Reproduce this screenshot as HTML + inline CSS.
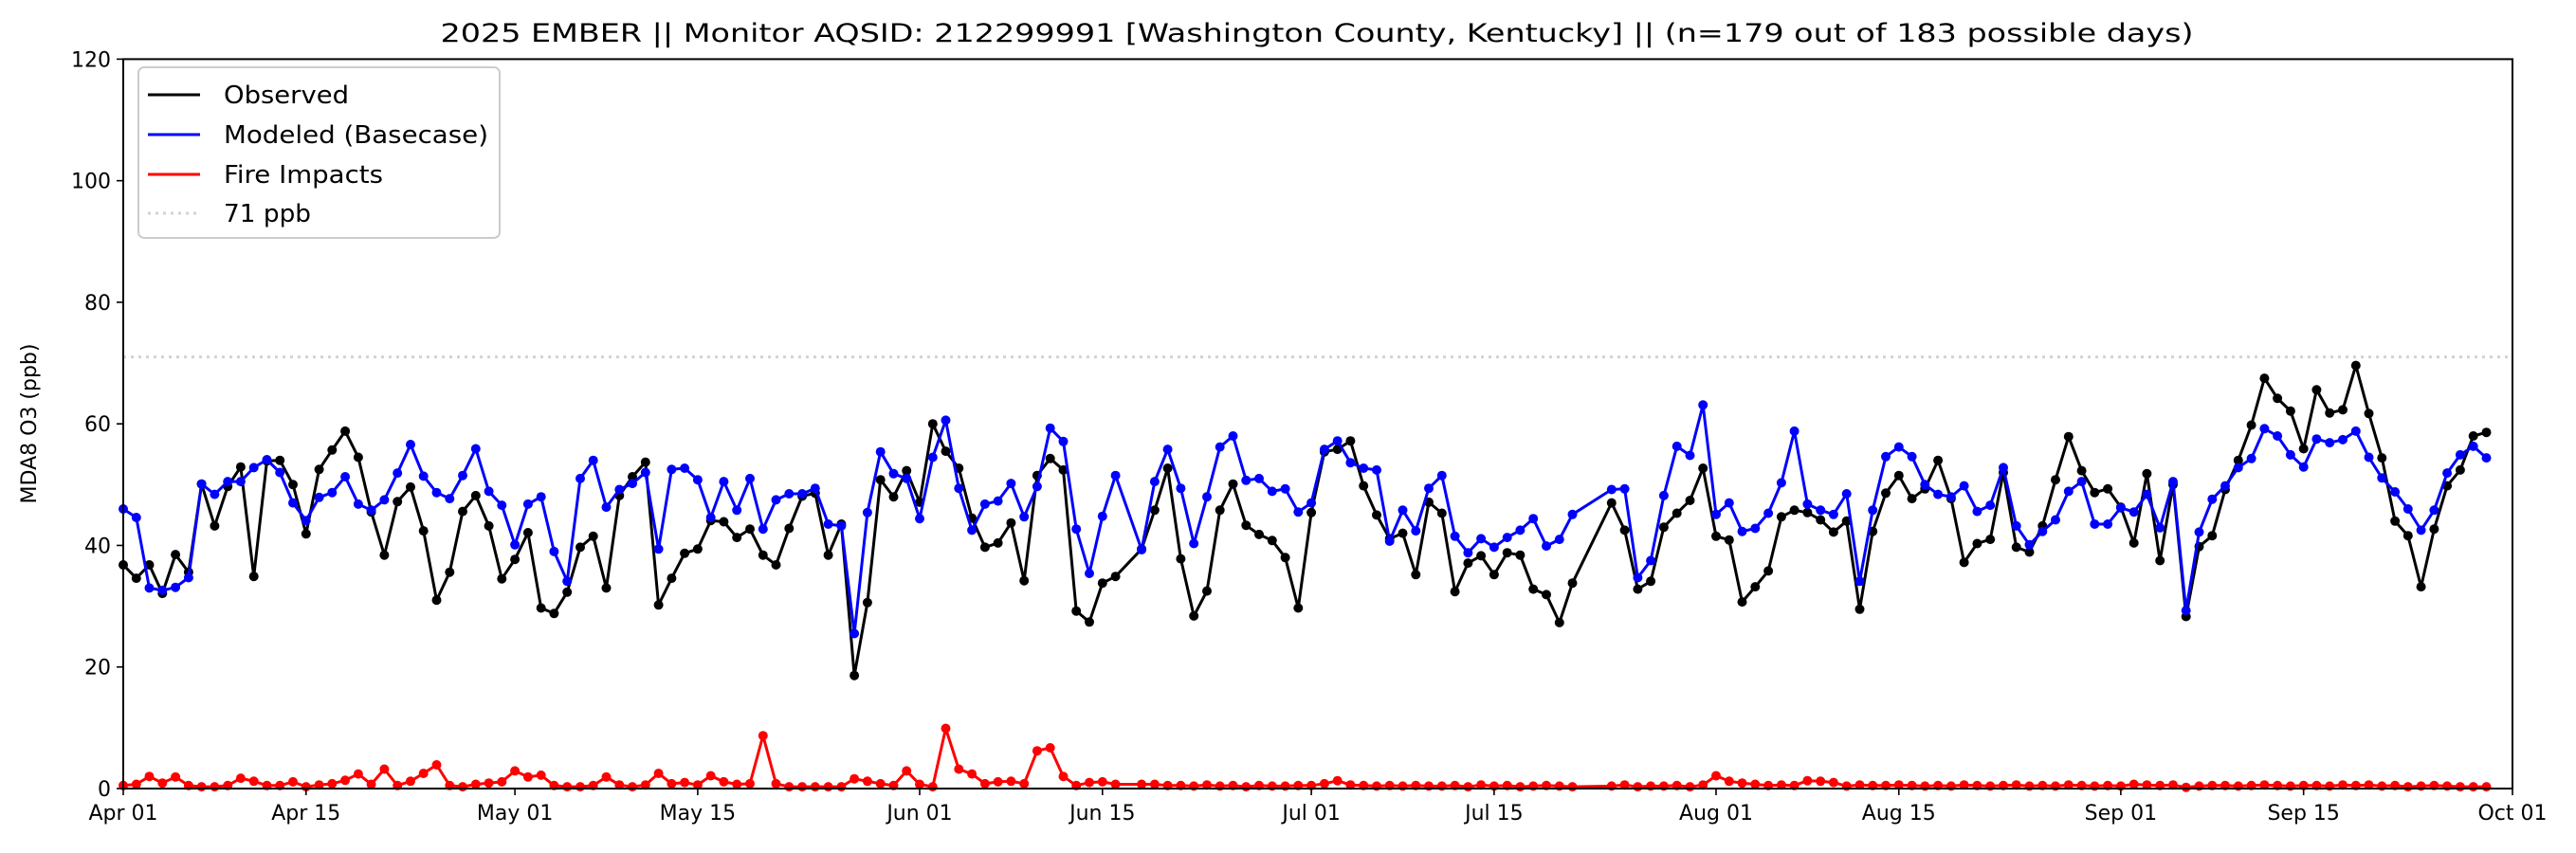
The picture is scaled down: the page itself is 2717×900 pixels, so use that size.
<!DOCTYPE html>
<html><head><meta charset="utf-8">
<style>
html,body{margin:0;padding:0;background:#fff;}
svg{display:block;font-family:"DejaVu Sans","Liberation Sans",sans-serif;}
</style></head>
<body>
<svg id="chart" width="2717" height="900" viewBox="0 0 2717 900" xmlns="http://www.w3.org/2000/svg">
  <rect x="0" y="0" width="2717" height="900" fill="#fff"/>
  <text x="1389" y="44" text-anchor="middle" font-size="27" textLength="1849" lengthAdjust="spacingAndGlyphs" fill="#000">2025 EMBER || Monitor AQSID: 212299991 [Washington County, Kentucky] || (n=179 out of 183 possible days)</text>
  <text transform="translate(38,447) rotate(-90)" text-anchor="middle" font-size="22" fill="#000">MDA8 O3 (ppb)</text>
  <g id="plot"></g>
  <g>
    <rect x="146" y="71" width="381" height="180" rx="6" fill="#fff" fill-opacity="0.8" stroke="#cccccc" stroke-width="2"/>
    <line x1="156" y1="100" x2="211" y2="100" stroke="#000" stroke-width="3"/>
    <text x="236" y="109" font-size="26" textLength="132" lengthAdjust="spacingAndGlyphs">Observed</text>
    <line x1="156" y1="142" x2="211" y2="142" stroke="#0000ff" stroke-width="3"/>
    <text x="236" y="151" font-size="26" textLength="279" lengthAdjust="spacingAndGlyphs">Modeled (Basecase)</text>
    <line x1="156" y1="184" x2="211" y2="184" stroke="#ff0000" stroke-width="3"/>
    <text x="236" y="193" font-size="26" textLength="168" lengthAdjust="spacingAndGlyphs">Fire Impacts</text>
    <line x1="156" y1="225" x2="211" y2="225" stroke="#d3d3d3" stroke-width="3" stroke-dasharray="3,5"/>
    <text x="236" y="234" font-size="26" textLength="92" lengthAdjust="spacingAndGlyphs">71 ppb</text>
  </g>
</svg>
<script>
const xTickLabels = ["Apr 01","Apr 15","May 01","May 15","Jun 01","Jun 15","Jul 01","Jul 15","Aug 01","Aug 15","Sep 01","Sep 15","Oct 01"];
const xTickDays = [0,14,30,44,61,75,91,105,122,136,153,167,183];
const yTicks = [0,20,40,60,80,100,120];
const thresholdValue = 71;
const observed = [
36.8,34.6,36.8,32.1,38.5,35.6,50.1,43.2,49.7,52.9,
34.9,53.9,54.0,50.0,41.9,52.5,55.7,58.8,54.5,45.5,
38.4,47.2,49.6,42.4,31.0,35.6,45.6,48.2,43.2,34.5,
37.7,42.1,29.7,28.8,32.3,39.7,41.5,33.0,48.2,51.3,
53.7,30.2,34.6,38.7,39.4,44.1,43.9,41.3,42.7,38.4,
36.8,42.8,48.1,48.6,38.4,43.5,18.6,30.6,50.8,48.0,
52.3,47.1,60.0,55.5,52.7,44.5,39.7,40.4,43.7,34.2,
51.5,54.3,52.4,29.2,27.4,33.8,34.9,null,39.4,45.8,
52.7,37.8,28.4,32.5,45.8,50.1,43.3,41.8,40.8,38.0,
29.7,45.4,55.4,55.8,57.2,49.8,45.0,41.1,42.0,35.2,
47.1,45.3,32.4,37.1,38.3,35.2,38.8,38.4,32.8,31.9,
27.3,33.8,null,null,47.0,42.5,32.8,34.1,43.0,45.3,
47.4,52.7,41.5,40.9,30.7,33.2,35.8,44.7,45.8,45.4,
44.2,42.2,44.0,29.5,42.3,48.6,51.5,47.7,49.3,54.0,
47.7,37.2,40.3,41.0,52.0,39.7,38.9,43.2,50.8,57.9,
52.3,48.7,49.3,46.3,40.4,51.8,37.5,50.0,28.3,39.8,
41.6,49.2,54.0,59.8,67.5,64.2,62.1,55.9,65.6,61.8,
62.3,69.6,61.7,54.4,44.0,41.6,33.2,42.7,49.8,52.4,
58.0,58.6,null];
const modeled = [
46.0,44.6,33.0,32.6,33.1,34.7,50.1,48.4,50.5,50.5,
52.8,54.1,52.0,47.0,44.1,47.9,48.7,51.3,46.8,45.8,
47.5,51.9,56.6,51.4,48.7,47.7,51.5,55.9,48.9,46.6,
40.1,46.8,48.0,39.0,34.1,51.0,54.0,46.3,49.2,50.2,
52.0,39.4,52.5,52.7,50.8,44.6,50.5,45.8,51.0,42.7,
47.5,48.5,48.5,49.4,43.5,43.2,25.5,45.4,55.4,51.8,
51.0,44.4,54.5,60.6,49.4,42.5,46.8,47.3,50.2,44.7,
49.7,59.3,57.1,42.7,35.4,44.8,51.5,null,39.3,50.5,
55.8,49.4,40.3,48.0,56.2,58.0,50.7,51.0,48.9,49.3,
45.5,47.0,55.8,57.2,53.6,52.7,52.4,40.7,45.8,42.4,
49.4,51.5,41.5,38.8,41.1,39.7,41.3,42.5,44.4,39.9,
41.0,45.1,null,null,49.2,49.3,34.7,37.5,48.2,56.3,
54.8,63.1,45.1,47.0,42.3,42.8,45.3,50.3,58.8,46.8,
45.8,45.1,48.5,34.1,45.8,54.6,56.2,54.6,50.0,48.4,
48.0,49.8,45.6,46.6,52.8,43.2,40.1,42.3,44.2,48.9,
50.5,43.5,43.5,46.2,45.5,48.4,42.9,50.5,29.3,42.2,
47.6,49.8,52.8,54.3,59.2,58.0,54.9,52.9,57.5,56.9,
57.4,58.8,54.5,51.1,48.8,46.0,42.5,45.8,51.9,54.9,
56.3,54.4,null];
const fireImpacts = [
0.5,0.7,2.0,0.9,1.9,0.5,0.3,0.3,0.5,1.7,
1.2,0.5,0.5,1.1,0.3,0.6,0.8,1.35,2.4,0.7,
3.2,0.5,1.2,2.5,3.9,0.5,0.3,0.7,0.9,1.1,
2.9,1.9,2.2,0.5,0.3,0.3,0.5,1.9,0.6,0.3,
0.6,2.5,0.8,1.0,0.6,2.1,1.1,0.7,0.8,8.7,
0.8,0.3,0.3,0.3,0.3,0.3,1.6,1.2,0.8,0.5,
2.9,0.7,0.3,9.9,3.2,2.4,0.8,1.1,1.2,0.8,
6.2,6.7,2.0,0.5,1.0,1.1,0.7,null,0.7,0.7,
0.5,0.5,0.4,0.6,0.4,0.5,0.3,0.5,0.4,0.4,
0.5,0.5,0.8,1.3,0.6,0.5,0.4,0.5,0.4,0.5,
0.4,0.4,0.5,0.3,0.6,0.4,0.5,0.3,0.4,0.5,
0.4,0.3,null,null,0.4,0.6,0.3,0.4,0.4,0.5,
0.3,0.6,2.1,1.2,0.9,0.7,0.5,0.6,0.5,1.3,
1.2,1.0,0.4,0.6,0.5,0.5,0.6,0.5,0.4,0.5,
0.4,0.6,0.5,0.4,0.5,0.6,0.4,0.5,0.4,0.6,
0.5,0.4,0.5,0.4,0.7,0.6,0.5,0.6,0.2,0.4,
0.5,0.5,0.4,0.5,0.6,0.5,0.4,0.5,0.5,0.4,
0.6,0.5,0.6,0.4,0.5,0.3,0.4,0.5,0.4,0.3,
0.3,0.3,null];

const NS = "http://www.w3.org/2000/svg";
const X0 = 130, X1 = 2650, Y0 = 832, Y1 = 62.4, NDAYS = 183, YMAX = 120;
function xScale(d){ return X0 + (X1 - X0) * d / NDAYS; }
function yScale(v){ return Y0 - (Y0 - Y1) * v / YMAX; }
const plot = document.getElementById('plot');
function mk(tag, attrs){ const e = document.createElementNS(NS, tag); for (const k in attrs) e.setAttribute(k, attrs[k]); return e; }

const th = mk('line', {x1:X0, x2:X1, y1:yScale(thresholdValue), y2:yScale(thresholdValue), stroke:'#d3d3d3', 'stroke-width':3, 'stroke-dasharray':'3,5'});


plot.appendChild(th);

function drawSeries(arr, color, name){
  const g = mk('g', {});
  
  
  let pts = [];
  arr.forEach((v, i) => { if (v !== null) pts.push([xScale(i), yScale(v)]); });
  const path = mk('polyline', {points: pts.map(p => p[0].toFixed(1) + ',' + p[1].toFixed(1)).join(' '), fill:'none', stroke:color, 'stroke-width':3, 'stroke-linejoin':'round'});
  
  
  g.appendChild(path);
  arr.forEach((v, i) => {
    if (v === null) return;
    const c = mk('circle', {cx: xScale(i).toFixed(1), cy: yScale(v).toFixed(1), r: 5, fill: color});
    
    
    g.appendChild(c);
  });
  plot.appendChild(g);
}
drawSeries(observed, '#000000', 'observed');
drawSeries(modeled, '#0000ff', 'modeled');
drawSeries(fireImpacts, '#ff0000', 'fire-impacts');

const frame = mk('rect', {x:X0, y:Y1, width:X1-X0, height:Y0-Y1, fill:'none', stroke:'#000', 'stroke-width':2});


plot.appendChild(frame);

xTickDays.forEach((d, i) => {
  const x = xScale(d);
  const t = mk('line', {x1:x, x2:x, y1:Y0, y2:Y0+7, stroke:'#000', 'stroke-width':1.6});
  
  
  plot.appendChild(t);
  const lb = mk('text', {x:x, y:Y0+33, 'text-anchor':'middle', 'font-size':22, fill:'#000'});
  lb.textContent = xTickLabels[i];
  
  
  plot.appendChild(lb);
});
yTicks.forEach(v => {
  const y = yScale(v);
  const t = mk('line', {x1:X0-7, x2:X0, y1:y, y2:y, stroke:'#000', 'stroke-width':1.6});
  
  
  plot.appendChild(t);
  const lb = mk('text', {x:X0-13, y:y+8, 'text-anchor':'end', 'font-size':22, fill:'#000'});
  lb.textContent = String(v);
  
  
  plot.appendChild(lb);
});
</script>
</body></html>
